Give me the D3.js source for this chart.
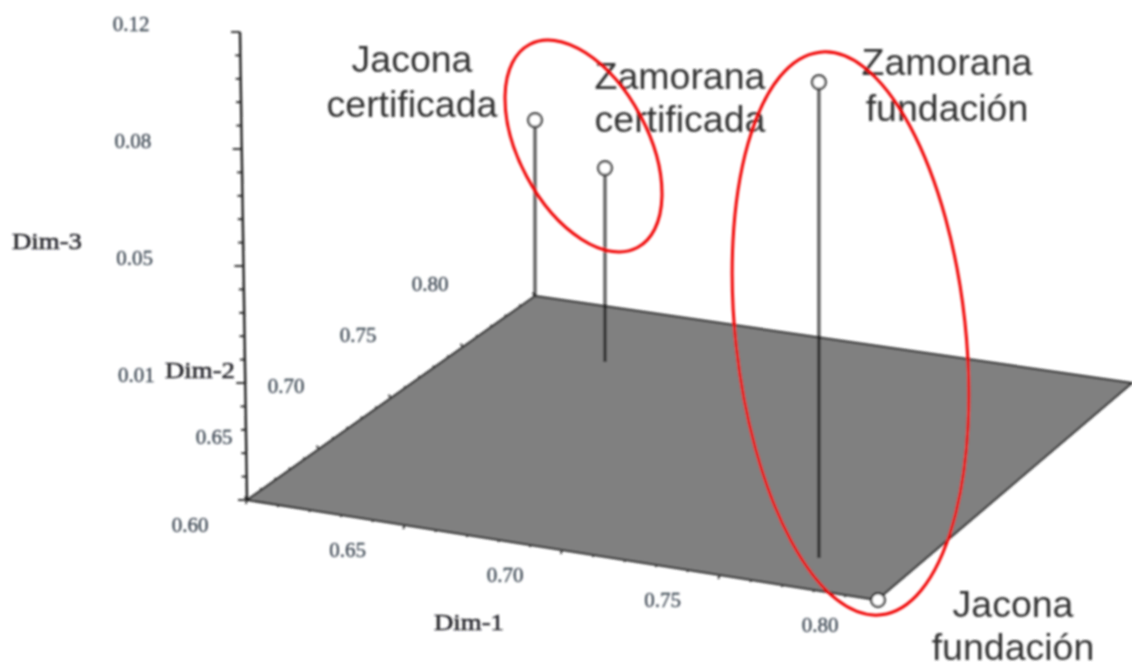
<!DOCTYPE html>
<html><head><meta charset="utf-8">
<script src="https://cdn.jsdelivr.net/npm/d3@7"></script>
<style>html,body{margin:0;padding:0;background:#fff}svg{display:block}</style>
</head><body><svg id="c" width="1132" height="668"></svg>
<script>
// ---- data ----
const sites   = ["Jacona certificada","Zamorana certificada","Zamorana fundación","Jacona fundación"];
const dim1    = [0.600, 0.6446, 0.771, 0.800];
const dim2    = [0.800, 0.755, 0.6256, 0.600];
const dim3    = [0.0451, 0.0497, 0.122, 0.000];
const dim1Ticks  = [0.60,0.65,0.70,0.75,0.80];
const dim2Ticks  = [0.65,0.70,0.75,0.80];
const dim1Labels = ["0.60","0.65","0.70","0.75","0.80"];
const dim2Labels = ["0.65","0.70","0.75","0.80"];
const dim3Major  = [0.12,0.09,0.06,0.03];
const dim3Labels = ["0.12","0.08","0.05","0.01"];
const siteLines  = [["Jacona","certificada"],["Zamorana","certificada"],["Zamorana","fundación"],["Jacona","fundación"]];

// ---- scales: the floor is a perspective quad, spanned by two edge scales per screen axis ----
const dom = [0.6,0.8];
const frontX = d3.scaleLinear().domain(dom).range([247,877]);
const frontY = d3.scaleLinear().domain(dom).range([500,600]);
const backX  = d3.scaleLinear().domain(dom).range([535,1132]);
const backY  = d3.scaleLinear().domain(dom).range([296,383]);
const depth  = d3.scaleLinear().domain(dom).range([0,1]);
const fx = (a,b)=>d3.interpolateNumber(frontX(a),backX(a))(depth(b));
const fy = (a,b)=>d3.interpolateNumber(frontY(a),backY(a))(depth(b));
const zLen = d3.scaleLinear().domain([0,0.12]).range([0,468]);
const zAxisX = d3.scaleLinear().domain([0,0.12]).range([247,240]);
const zAxisY = d3.scaleLinear().domain([0,0.12]).range([500,32]);

const svg = d3.select("#c");
const defs = svg.append("defs");
defs.append("filter").attr("id","soft").attr("filterUnits","userSpaceOnUse")
  .attr("x",0).attr("y",0).attr("width",1132).attr("height",668)
  .append("feGaussianBlur").attr("stdDeviation",1);
const root = svg.append("g").attr("filter","url(#soft)");
const line = d3.line();

// floor
const corners = [[.6,.6],[.8,.6],[.8,.8],[.6,.8]];
root.append("path").attr("d",line.curve(d3.curveLinearClosed)(corners.map(c=>[fx(c[0],c[1]),fy(c[0],c[1])])))
  .attr("fill","#808080").attr("stroke","#222").attr("stroke-width",2).attr("stroke-linejoin","round");
line.curve(d3.curveLinear);

// floor-edge ticks
const ink="#1f1f1f";
d3.range(0,21).map(i=>0.6+i*0.01).forEach((a,i)=>{
  const l=i%5===0?4:2;
  root.append("line").attr("x1",fx(a,.6)).attr("y1",fy(a,.6)).attr("x2",fx(a,.6)-l*.3).attr("y2",fy(a,.6)+l)
    .attr("stroke",ink).attr("stroke-width",1.6);
  root.append("line").attr("x1",fx(.6,a)).attr("y1",fy(.6,a)).attr("x2",fx(.6,a)-l*.6).attr("y2",fy(.6,a)-l*.8)
    .attr("stroke",ink).attr("stroke-width",1.6);
});

// vertical axis
root.append("line").attr("x1",zAxisX(0)).attr("y1",zAxisY(0)).attr("x2",zAxisX(.12)).attr("y2",zAxisY(.12))
  .attr("stroke",ink).attr("stroke-width",2.4);
d3.range(0,21).map(i=>i*0.006).forEach((z,i)=>{
  const l=i%5===0?9:5;
  root.append("line").attr("x1",zAxisX(z)).attr("y1",zAxisY(z)).attr("x2",zAxisX(z)-l).attr("y2",zAxisY(z))
    .attr("stroke",ink).attr("stroke-width",1.8);
});

// tick labels
const tickStyle = s=>s.attr("font-family","'Liberation Serif',serif").attr("font-size",21).attr("fill","#38434f")
  .attr("stroke","#38434f").attr("stroke-width",.3)
  .attr("text-anchor","middle").attr("dominant-baseline","central");
dim1Ticks.forEach((a,i)=>root.append("text").text(dim1Labels[i]).attr("x",fx(a,.6)-57).attr("y",fy(a,.6)+25).call(tickStyle));
dim2Ticks.forEach((b,i)=>root.append("text").text(dim2Labels[i]).attr("x",fx(.6,b)-105).attr("y",fy(.6,b)-12).call(tickStyle));
dim3Major.forEach((z,i)=>root.append("text").text(dim3Labels[i]).attr("x",zAxisX(z)-109).attr("y",zAxisY(z)-8).call(tickStyle));

// axis titles
[["Dim-1",469,622],["Dim-2",200,370],["Dim-3",47,241]].forEach(t=>{
  root.append("text").text(t[0]).attr("x",t[1]).attr("y",t[2]).attr("font-family","'Liberation Serif',serif")
    .attr("font-size",24).attr("fill","#222228").attr("stroke","#222228").attr("stroke-width",.5)
    .attr("text-anchor","middle").attr("dominant-baseline","central").attr("textLength",70).attr("lengthAdjust","spacingAndGlyphs");
});

// stems
sites.forEach((s,i)=>{
  if(dim3[i]===0) return;
  const x=fx(dim1[i],dim2[i]), y=fy(dim1[i],dim2[i]);
  root.append("line").attr("x1",x).attr("y1",y).attr("x2",x).attr("y2",y-zLen(dim3[i]))
    .attr("stroke","#000").attr("stroke-opacity",.62).attr("stroke-width",3.4);
});

// point labels
const labelPos=[[412,72,117],[680,89,132],[947,75,121],[1013,617,660]];
siteLines.forEach((ls,i)=>ls.forEach((t,j)=>{
  root.append("text").text(t).attr("x",labelPos[i][0]).attr("y",labelPos[i][j+1])
    .attr("font-family","'Liberation Sans',Arial,sans-serif").attr("font-size",37.5).attr("fill","#333").attr("text-anchor","middle");
}));

// grouping ellipses
[[583.5,146,115,64.5,62],[850.5,333.5,283,115,83.8]].forEach(e=>{
  root.append("ellipse").attr("rx",e[2]).attr("ry",e[3])
    .attr("transform",`translate(${e[0]},${e[1]}) rotate(${e[4]})`)
    .attr("fill","none").attr("stroke","#f00000").attr("stroke-width",3);
});

// markers
sites.forEach((s,i)=>{
  root.append("circle").attr("cx",fx(dim1[i],dim2[i])+(dim3[i]===0?1:0)).attr("cy",fy(dim1[i],dim2[i])-zLen(dim3[i]))
    .attr("r",6.8).attr("fill","#fff").attr("stroke","#222").attr("stroke-width",2.2);
});
</script></body></html>
